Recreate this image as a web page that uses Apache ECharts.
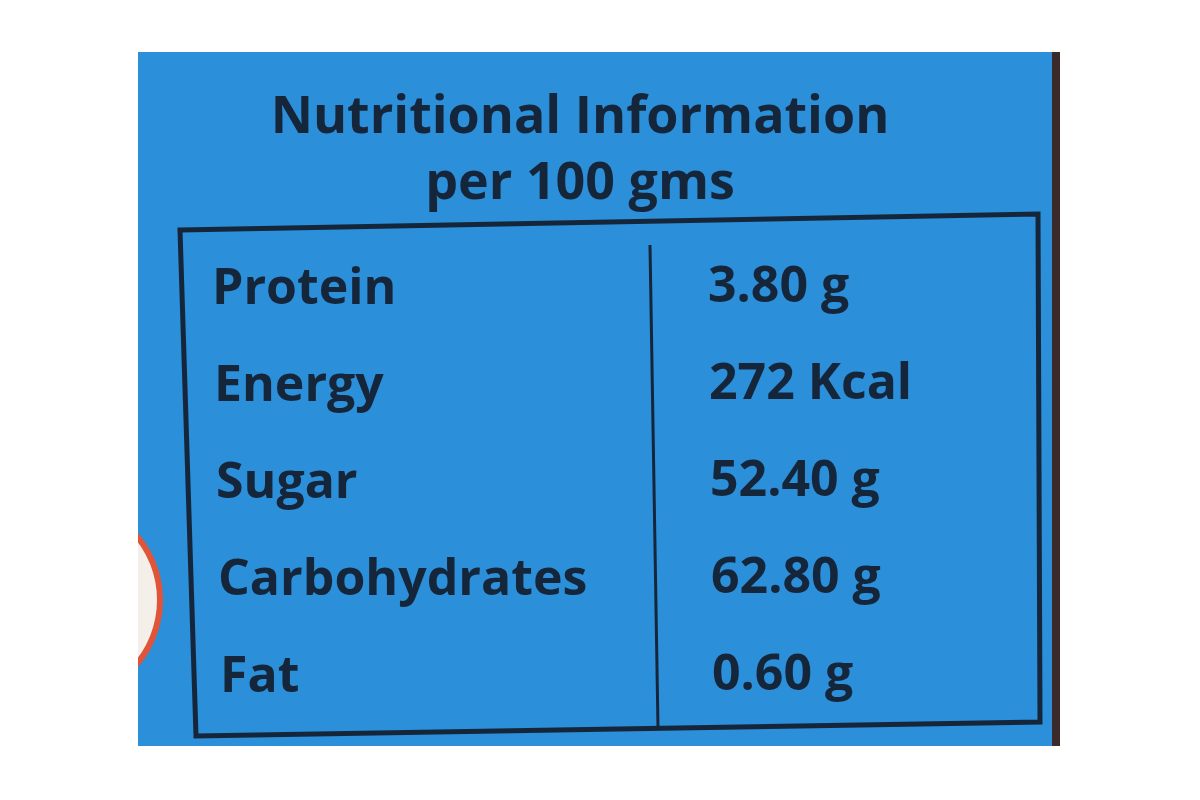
<!DOCTYPE html>
<html>
<head>
<meta charset="utf-8">
<script src="https://cdn.jsdelivr.net/npm/echarts@6/dist/echarts.min.js"></script>
<style>
  html, body { margin: 0; padding: 0; background: #fff; }
  #app { width: 1200px; height: 800px; }
</style>
</head>
<body>
<div id="app"></div>
<script>
// label data
var titleLines = ['Nutritional Information', 'per 100 gms']
var nutrients = ['Protein', 'Energy', 'Sugar', 'Carbohydrates', 'Fat']
var amounts = ['3.80 g', '272 Kcal', '52.40 g', '62.80 g', '0.60 g']

var chart = echarts.init(document.getElementById('app'))

var ink = '#16263a'
var font = '"Open Sans", "DejaVu Sans", sans-serif'

var rowTop = 290, rowStep = 97
var elements = [
  // blue panel
  { type: 'rect', shape: { x: 138, y: 52, width: 918, height: 694 }, style: { fill: '#2b8fd9' } },
  // dark right edge
  { type: 'rect', shape: { x: 1052, y: 52, width: 8, height: 694 }, style: { fill: '#3a2a2a' } },
  // red arc at left
  { type: 'circle', shape: { cx: 60, cy: 600, r: 100 }, style: { fill: '#f4efe9', stroke: '#e0553a', lineWidth: 6 } },
  { type: 'rect', shape: { x: 0, y: 440, width: 138, height: 320 }, style: { fill: '#fff' } },
  // table frame
  { type: 'polygon', shape: { points: [[180, 230], [1038, 214], [1040, 722], [196, 736]] },
    style: { fill: 'none', stroke: ink, lineWidth: 5 } },
  { type: 'line', shape: { x1: 650, y1: 245, x2: 658, y2: 728 }, style: { stroke: ink, lineWidth: 3 } }
]

titleLines.forEach(function (t, i) {
  elements.push({
    type: 'text', x: 580, y: 118 + i * 66,
    style: { text: t, fill: ink, font: 'bold 52px ' + font, align: 'center', verticalAlign: 'middle' }
  })
})

nutrients.forEach(function (n, i) {
  elements.push({
    type: 'text', x: 212 + i * 2, y: rowTop + i * rowStep,
    style: { text: n, fill: ink, font: 'bold 50px ' + font, verticalAlign: 'middle' }
  })
  elements.push({
    type: 'text', x: 708 + i * 1, y: rowTop + i * rowStep - 2,
    style: { text: amounts[i], fill: ink, font: 'bold 50px ' + font, verticalAlign: 'middle' }
  })
})

chart.setOption({
  backgroundColor: '#ffffff',
  graphic: { elements: elements }
})
</script>
</body>
</html>
